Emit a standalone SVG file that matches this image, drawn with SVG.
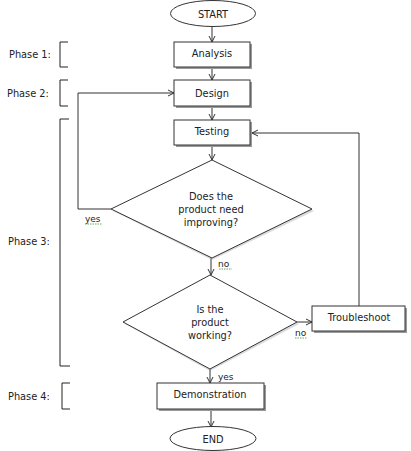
<svg xmlns="http://www.w3.org/2000/svg" width="411" height="451" viewBox="0 0 411 451">
<defs>
<marker id="arr" markerWidth="8" markerHeight="8" refX="7" refY="4" orient="auto" markerUnits="userSpaceOnUse">
<path d="M1,1 L7,4 L1,7" fill="none" stroke="#333" stroke-width="1"/>
</marker>
</defs>
<style>
text{font-family:"DejaVu Sans","Open Sans",sans-serif;font-size:9.8px;fill:#222;}
.c{text-anchor:middle;}
.box{fill:#fff;stroke:#333;stroke-width:1;}
.sh{fill:#999;}
.ln{fill:none;stroke:#333;stroke-width:1;}
.br{fill:none;stroke:#222;stroke-width:1;}
.lab{font-size:9px;}
.ul{stroke:#6a6;stroke-width:1;fill:none;stroke-dasharray:1.5,1;}
</style>
<rect width="411" height="451" fill="#fff"/>

<g id="phases">
<text x="9" y="58">Phase 1:</text>
<path class="br" d="M68,42 H60 V67 H68"/>
<text x="7" y="97">Phase 2:</text>
<path class="br" d="M68,80 H60 V106 H68"/>
<text x="8" y="245">Phase 3:</text>
<path class="br" d="M69,119 H60 V366 H70"/>
<text x="8" y="400">Phase 4:</text>
<path class="br" d="M70,383 H62 V409 H70"/>
</g>

<g id="connectors">
<line class="ln" x1="212" y1="27" x2="212" y2="42" marker-end="url(#arr)"/>
<line class="ln" x1="212" y1="67" x2="212" y2="80" marker-end="url(#arr)"/>
<line class="ln" x1="212" y1="106" x2="212" y2="120" marker-end="url(#arr)"/>
<line class="ln" x1="212" y1="145" x2="212" y2="160" marker-end="url(#arr)"/>
<line class="ln" x1="211" y1="258" x2="211" y2="275" marker-end="url(#arr)"/>
<line class="ln" x1="210" y1="369" x2="210" y2="383" marker-end="url(#arr)"/>
<line class="ln" x1="211" y1="409" x2="211" y2="427" marker-end="url(#arr)"/>
<polyline class="ln" points="111,209 78,209 78,93 174,93" marker-end="url(#arr)"/>
<polyline class="ln" points="359,306 359,133 252,133" marker-end="url(#arr)"/>
<line class="ln" x1="297" y1="322" x2="312" y2="322" marker-end="url(#arr)"/>
<text class="lab" x="85" y="222">yes</text>
<path class="ul" d="M85,224 H102"/>
<text class="lab" x="218" y="267">no</text>
<path class="ul" d="M219,269 H232"/>
<text class="lab" x="295" y="336">no</text>
<path class="ul" d="M295,338 H307"/>
<text class="lab" x="218" y="380">yes</text>
</g>

<g id="start">
<ellipse cx="213" cy="13.5" rx="42.5" ry="13" class="box"/>
<text class="c" x="213" y="17.5">START</text>
</g>

<g id="analysis">
<rect class="sh" x="176" y="44" width="76" height="25"/>
<rect class="box" x="174" y="42" width="76" height="25"/>
<text class="c" x="212" y="57">Analysis</text>
</g>

<g id="design">
<rect class="sh" x="176" y="82" width="76" height="26"/>
<rect class="box" x="174" y="80" width="76" height="26"/>
<text class="c" x="212" y="97">Design</text>
</g>

<g id="testing">
<rect class="sh" x="176" y="122" width="76" height="25"/>
<rect class="box" x="174" y="120" width="76" height="25"/>
<text class="c" x="212" y="135">Testing</text>
</g>

<g id="decision1">
<polygon class="sh" points="212,162 314,211 212,260 113,211" opacity="0.35"/>
<polygon class="box" points="212,160 312,209 212,258 111,209"/>
<text class="c" x="211" y="200">Does the</text>
<text class="c" x="211" y="213">product need</text>
<text class="c" x="211" y="226">improving?</text>
</g>

<g id="decision2">
<polygon class="sh" points="210,277 299,324 210,371 125,324" opacity="0.35"/>
<polygon class="box" points="210,275 297,322 210,369 123,322"/>
<text class="c" x="210" y="313">Is the</text>
<text class="c" x="210" y="326">product</text>
<text class="c" x="210" y="339">working?</text>
</g>

<g id="troubleshoot">
<rect class="sh" x="314" y="308" width="93" height="25"/>
<rect class="box" x="312" y="306" width="93" height="25"/>
<text class="c" x="359" y="321">Troubleshoot</text>
</g>

<g id="demonstration">
<rect class="sh" x="159" y="385" width="107" height="26"/>
<rect class="box" x="157" y="383" width="107" height="26"/>
<text class="c" x="210" y="398">Demonstration</text>
</g>

<g id="end">
<ellipse cx="213" cy="438.5" rx="43" ry="12" class="box"/>
<text class="c" x="213" y="442.5">END</text>
</g>
</svg>
